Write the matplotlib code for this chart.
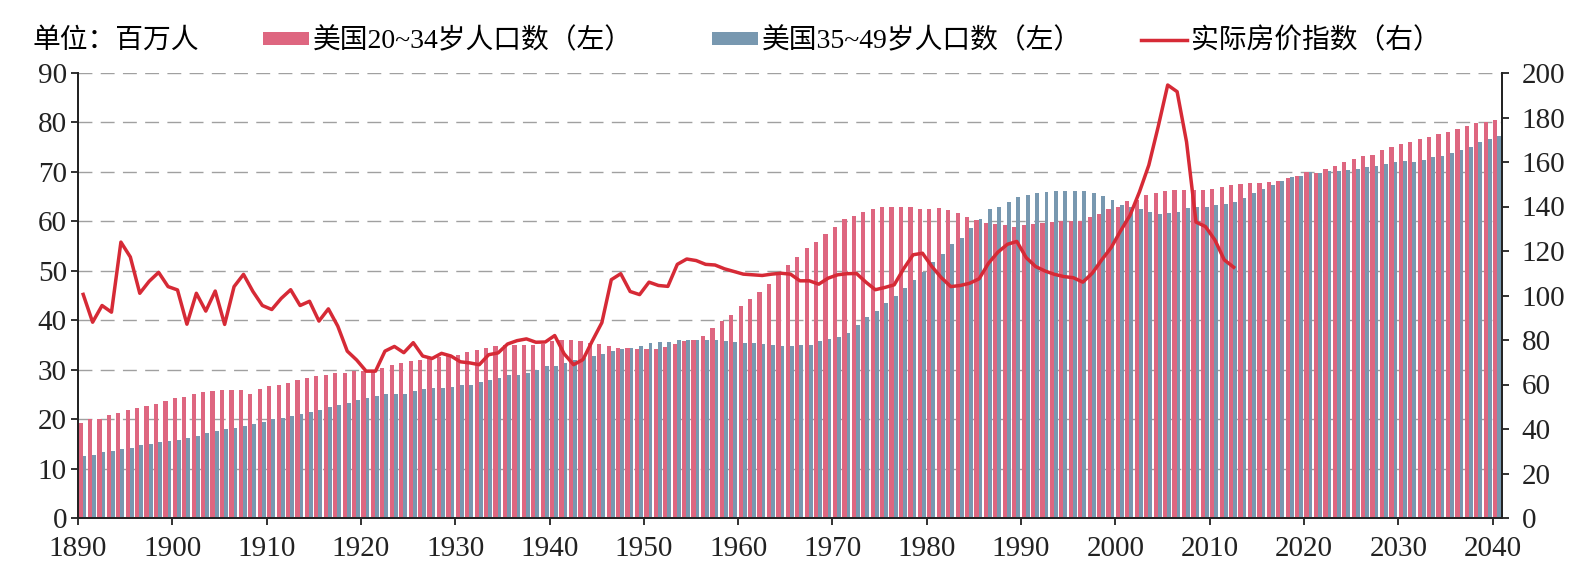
import numpy as np
import matplotlib
matplotlib.use("Agg")
import matplotlib.pyplot as plt

years = list(range(1890, 2041))

# 美国20~34岁人口数 (百万人), 1890-2040
pop_20_34 = [
    19.3, 20.0, 20.1, 20.8, 21.3, 21.9, 22.2, 22.6, 23.1, 23.7,
    24.2, 24.4, 25.1, 25.4, 25.6, 25.8, 25.9, 25.9, 25.0, 26.0,
    26.6, 27.0, 27.3, 28.0, 28.4, 28.8, 29.0, 29.3, 29.4, 29.7,
    29.8, 29.8, 30.3, 31.0, 31.4, 31.7, 31.9, 32.2, 32.5, 33.0,
    33.0, 33.5, 33.9, 34.3, 34.7, 35.0, 35.0, 35.0, 35.0, 35.2,
    35.7, 35.9, 35.9, 35.7, 35.4, 35.1, 34.8, 34.4, 34.4, 34.2,
    34.1, 34.2, 34.6, 35.2, 35.8, 36.1, 36.8, 38.5, 39.8, 41.0,
    42.8, 44.2, 45.8, 47.3, 49.2, 51.1, 52.8, 54.6, 55.9, 57.4,
    58.8, 60.5, 61.1, 61.9, 62.4, 63.0, 63.0, 63.0, 62.8, 62.5,
    62.5, 62.6, 62.2, 61.7, 60.8, 60.3, 59.7, 59.5, 59.2, 58.8,
    59.2, 59.5, 59.7, 59.8, 60.0, 60.0, 60.1, 60.9, 61.5, 62.4,
    63.0, 64.1, 64.4, 65.4, 65.8, 66.1, 66.3, 66.3, 66.3, 66.4,
    66.6, 67.0, 67.4, 67.5, 67.7, 67.7, 67.9, 68.1, 68.7, 69.2,
    69.9, 69.7, 70.5, 71.2, 71.9, 72.7, 73.2, 73.5, 74.5, 75.0,
    75.6, 76.1, 76.6, 77.0, 77.6, 78.1, 78.7, 79.2, 79.8, 80.1,
    80.4,
]

# 美国35~49岁人口数 (百万人), 1890-2040
pop_35_49 = [
    12.5, 12.8, 13.3, 13.5, 14.0, 14.2, 14.8, 15.0, 15.3, 15.6,
    15.8, 16.2, 16.6, 17.1, 17.5, 17.9, 18.3, 18.7, 19.0, 19.4,
    20.0, 20.3, 20.6, 21.0, 21.5, 21.9, 22.4, 22.8, 23.3, 23.9,
    24.3, 24.7, 25.0, 25.0, 25.1, 25.6, 26.0, 26.3, 26.3, 26.5,
    26.8, 27.0, 27.6, 28.0, 28.4, 28.9, 29.0, 29.3, 30.0, 30.7,
    30.7, 31.4, 32.0, 32.4, 32.8, 33.2, 33.8, 34.1, 34.3, 34.8,
    35.3, 35.6, 35.6, 35.9, 36.0, 36.0, 36.1, 35.9, 35.8, 35.6,
    35.4, 35.3, 35.1, 34.9, 34.8, 34.8, 34.9, 35.0, 35.8, 36.3,
    36.6, 37.4, 39.1, 40.6, 41.9, 43.5, 44.8, 46.5, 48.1, 49.8,
    51.7, 53.4, 55.4, 56.7, 58.6, 60.5, 62.4, 63.0, 63.9, 64.9,
    65.4, 65.8, 66.0, 66.1, 66.1, 66.1, 66.1, 65.8, 65.1, 64.3,
    63.4, 62.9, 62.4, 61.9, 61.5, 61.7, 61.9, 62.6, 62.8, 63.0,
    63.3, 63.6, 64.0, 64.8, 65.7, 66.5, 67.3, 68.1, 68.9, 69.2,
    70.0, 69.7, 70.2, 70.2, 70.3, 70.5, 71.0, 71.2, 71.5, 71.9,
    72.2, 72.1, 72.5, 73.0, 73.3, 73.9, 74.5, 75.0, 76.1, 76.6,
    77.2,
]

# 实际房价指数, 1890-2012
price_years = list(range(1890, 2013))
price_index = [
    100.5, 88.0, 95.5, 92.5, 124.0, 117.3, 101.0, 106.4, 110.4, 104.0,
    102.5, 87.1, 101.0, 93.0, 102.0, 87.0, 104.0, 109.5, 101.8, 95.5,
    93.7, 98.7, 102.6, 95.5, 97.4, 88.5, 94.0, 86.2, 75.0, 71.0,
    66.0, 66.0, 75.0, 77.1, 74.3, 78.8, 72.8, 71.7, 74.0, 72.8,
    70.2, 69.7, 68.9, 73.4, 74.2, 78.2, 79.7, 80.5, 79.0, 79.1,
    82.0, 73.8, 68.9, 71.2, 79.7, 87.8, 107.1, 109.8, 101.8, 100.4,
    106.0, 104.5, 104.1, 114.0, 116.4, 115.7, 114.0, 113.7, 112.0, 110.8,
    109.6, 109.3, 109.0, 109.6, 110.0, 109.6, 106.6, 106.6, 105.1, 107.8,
    109.3, 109.8, 109.9, 106.0, 102.6, 103.6, 104.8, 112.0, 118.3, 119.0,
    113.0, 108.0, 104.0, 104.5, 105.5, 107.5, 114.5, 119.5, 123.0, 124.3,
    117.0, 113.0, 111.0, 109.5, 108.5, 108.0, 106.0, 110.0, 116.0, 121.5,
    129.0, 136.0, 146.5, 158.6, 176.0, 194.6, 191.6, 169.0, 133.0, 131.0,
    125.0, 116.0, 112.7,
]

pink = "#DE6680"
blue = "#7898B0"
red = "#D62A36"
serif = ["Liberation Serif", "Noto Sans CJK SC"]
cjk = ["Liberation Serif", "Noto Sans CJK SC"]

fig = plt.figure(figsize=(15.86, 5.83), dpi=100)
ax = fig.add_axes([78 / 1586, 1 - 518 / 583, (1502 - 78) / 1586, (518 - 73) / 583])

x = np.array(years, dtype=float)
b1 = ax.bar(x + 0.05, pop_20_34, width=0.45, align="edge", color=pink, linewidth=0, zorder=2)
b2 = ax.bar(x + 0.5, pop_35_49, width=0.4, align="edge", color=blue, linewidth=0, zorder=2)

ax.set_xlim(1890, 2041)
ax.set_ylim(0, 90)
ax.set_yticks(range(0, 91, 10))
ax.set_xticks(range(1890, 2041, 10))
ax.yaxis.grid(True, linestyle=(0, (10, 6)), color="#a0a0a0", linewidth=1.0, zorder=0)
ax.set_axisbelow(True)

ax2 = ax.twinx()
ln, = ax2.plot(np.array(price_years) + 0.55, price_index, color=red, linewidth=2.5, zorder=3)
ax2.set_ylim(0, 200)
ax2.set_yticks(range(0, 201, 20))

for a in (ax, ax2):
    for s in a.spines.values():
        s.set_linewidth(1.3)
        s.set_color("#222222")
    a.spines["top"].set_visible(False)
    a.tick_params(direction="out", length=5, width=1.3, colors="#222222", labelsize=21)
    for lab in a.get_xticklabels() + a.get_yticklabels():
        lab.set_family(serif)
ax.tick_params(axis="x", pad=8)
ax.tick_params(axis="y", pad=3)
ax2.tick_params(axis="y", pad=9)

ytxt = 1 - 41 / 583
fig.text(33 / 1586, ytxt, "单位：百万人", family=cjk, fontsize=20, va="center", ha="left")
entries = [
    (b1, "美国20~34岁人口数（左）", 263),
    (b2, "美国35~49岁人口数（左）", 712),
    (ln, "实际房价指数（右）", 1141),
]
for h, label, px in entries:
    fig.legend(handles=[h], labels=[label], loc="center left",
               bbox_to_anchor=(px / 1586, ytxt), frameon=False,
               prop={"family": cjk, "size": 20}, borderpad=0, borderaxespad=0,
               handlelength=1.65, handleheight=0.35, handletextpad=0.15)

fig.savefig("out.png", dpi=100)
